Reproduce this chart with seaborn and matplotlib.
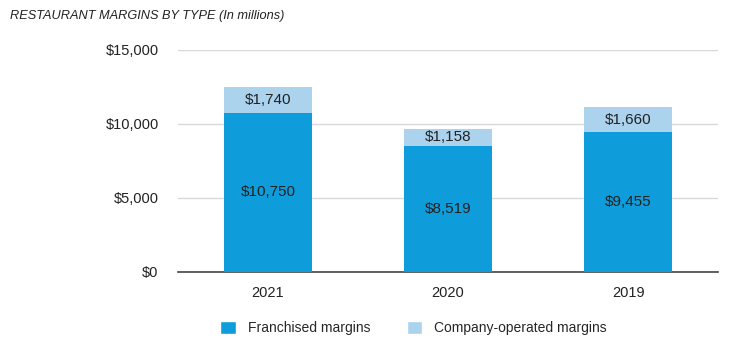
import pandas as pd
import seaborn as sns
import matplotlib.pyplot as plt
from matplotlib.patches import Patch

# data
years = ["2021", "2020", "2019"]
franchised = [10750, 8519, 9455]
company = [1740, 1158, 1660]

FRAN_COLOR = "#0e9dda"
COMP_COLOR = "#abd3ee"

df = pd.DataFrame({"year": years, "franchised": franchised, "company": company})
df["total"] = df["franchised"] + df["company"]

sns.set_style("white")
plt.rcParams["font.family"] = ["Liberation Sans", "DejaVu Sans"]

fig = plt.figure(figsize=(7.48, 3.54), dpi=100)
ax = fig.add_axes([0.238, 0.232, 0.722, 0.627])

# stacked: total in light colour, franchised drawn over it
sns.barplot(data=df, x="year", y="total", color=COMP_COLOR, width=0.49,
            saturation=1, linewidth=0, ax=ax, zorder=2)
sns.barplot(data=df, x="year", y="franchised", color=FRAN_COLOR, width=0.49,
            saturation=1, linewidth=0, ax=ax, zorder=3)

for i, row in df.iterrows():
    ax.text(i, row["franchised"] / 2, f"${row['franchised']:,}", ha="center",
            va="center", fontsize=11, color="#222222", zorder=4)
    ax.text(i, row["franchised"] + row["company"] / 2, f"${row['company']:,}",
            ha="center", va="center", fontsize=11, color="#222222", zorder=4)

ax.set_ylim(0, 15000)
ax.set_xlim(-0.5, 2.5)
ax.set_yticks([0, 5000, 10000, 15000])
ax.set_yticklabels([f"${v:,}" for v in [0, 5000, 10000, 15000]])
ax.yaxis.grid(True, color="#d9d9d9", linewidth=1, zorder=0)
ax.set_axisbelow(True)
for s in ["top", "right", "left"]:
    ax.spines[s].set_visible(False)
ax.spines["bottom"].set_color("#444444")
ax.spines["bottom"].set_linewidth(1.2)
ax.tick_params(axis="both", length=0, labelsize=10.5, colors="#222222")
ax.tick_params(axis="y", pad=14)
ax.tick_params(axis="x", pad=10)
ax.set_xlabel("")
ax.set_ylabel("")

fig.text(0.013, 0.955, "RESTAURANT MARGINS BY TYPE (In millions)", fontsize=9.2,
         style="italic", color="#222222", va="center")

handles = [Patch(facecolor=FRAN_COLOR, label="Franchised margins"),
           Patch(facecolor=COMP_COLOR, label="Company-operated margins")]
fig.legend(handles=handles, loc="center", bbox_to_anchor=(0.553, 0.073), ncol=2,
           frameon=False, fontsize=10, handlelength=1.1, handleheight=1.1,
           columnspacing=2.6, handletextpad=0.9)

fig.savefig("out.png", dpi=100)
